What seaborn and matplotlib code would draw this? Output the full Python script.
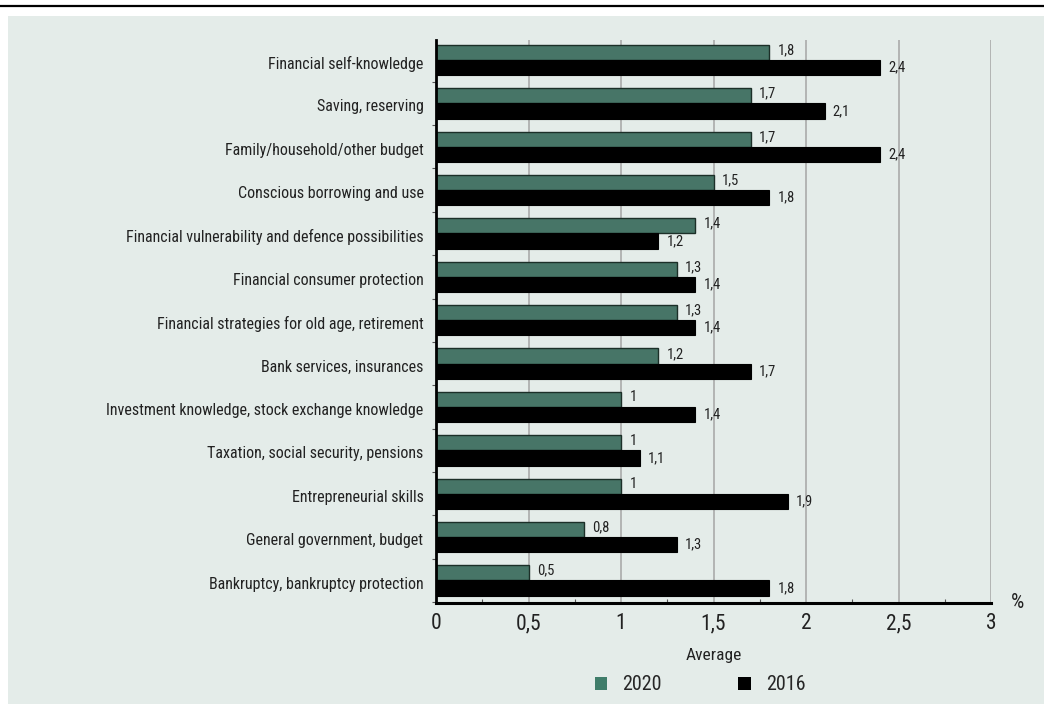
import matplotlib
matplotlib.use("Agg")
import matplotlib.pyplot as plt
from matplotlib.patches import Rectangle, Patch
from matplotlib.lines import Line2D
from matplotlib.ticker import MultipleLocator, FixedLocator
from matplotlib.transforms import ScaledTranslation
import seaborn as sns
import pandas as pd

topics = [
    "Financial self-knowledge",
    "Saving, reserving",
    "Family/household/other budget",
    "Conscious borrowing and use",
    "Financial vulnerability and defence possibilities",
    "Financial consumer protection",
    "Financial strategies for old age, retirement",
    "Bank services, insurances",
    "Investment knowledge, stock exchange knowledge",
    "Taxation, social security, pensions",
    "Entrepreneurial skills",
    "General government, budget",
    "Bankruptcy, bankruptcy protection",
]
avg_2020 = [1.8, 1.7, 1.7, 1.5, 1.4, 1.3, 1.3, 1.2, 1, 1, 1, 0.8, 0.5]
avg_2016 = [2.4, 2.1, 2.4, 1.8, 1.2, 1.4, 1.4, 1.7, 1.4, 1.1, 1.9, 1.3, 1.8]
years = ["2020", "2016"]
x_ticks = [0, 0.5, 1, 1.5, 2, 2.5, 3]

GREEN = "#3f7d6a"
PANEL = "#e4ece9"

df = pd.DataFrame({
    "topic": topics * 2,
    "value": avg_2020 + avg_2016,
    "year": [years[0]] * len(topics) + [years[1]] * len(topics),
})

sns.set_theme(style="white")
plt.rcParams["font.family"] = ["Liberation Sans Narrow", "Roboto Condensed", "DejaVu Sans"]
plt.rcParams["font.stretch"] = "condensed"

fig = plt.figure(figsize=(10.44, 7.04), dpi=100)
fig.patch.set_facecolor("white")
# tinted panel behind the chart and the rule above it
fig.patches.append(Rectangle((8 / 1044, 0), 1, (704 - 16) / 704, transform=fig.transFigure,
                             facecolor=PANEL, edgecolor="none", zorder=-10))
fig.lines.append(Line2D([0, 1], [1 - 6 / 704, 1 - 6 / 704], transform=fig.transFigure,
                        color="black", lw=1.6))

ax = fig.add_axes([436 / 1044, (704 - 603) / 704, (991 - 436) / 1044, (603 - 40) / 704])
ax.set_facecolor(PANEL)

sns.barplot(data=df, y="topic", x="value", hue="year", hue_order=years,
            palette={years[0]: GREEN, years[1]: "black"}, width=0.7,
            orient="h", dodge=True, ax=ax, legend=False, zorder=3)

for bar in ax.containers[0]:
    bar.set_edgecolor("#1c2f28")
    bar.set_linewidth(1.0)
for bar in ax.containers[1]:
    bar.set_edgecolor("black")
    bar.set_linewidth(0.8)

def comma(v):
    return f"{v:g}".replace(".", ",")

for cont, vals, dy in [(ax.containers[0], avg_2020, 1.5), (ax.containers[1], avg_2016, 0)]:
    texts = ax.bar_label(cont, labels=[comma(v) for v in vals], padding=6, fontsize=10.5,
                         color="#222222")
    for t in texts:
        t.xyann = (6, dy)

ax.set_xlim(0, 3)
ax.set_ylim(len(topics) - 0.5 + 0.02, -0.46)
ax.xaxis.set_major_locator(FixedLocator(x_ticks))
ax.set_xticklabels([comma(v) for v in x_ticks], fontsize=15.5, color="#222222")
ax.xaxis.set_minor_locator(MultipleLocator(0.25))
ax.tick_params(axis="x", which="major", length=0, pad=7.5)
ax.tick_params(axis="x", which="minor", direction="in", length=3, width=0.8, color="#555555",
               bottom=True)
ax.yaxis.set_minor_locator(FixedLocator([i + 0.5 for i in range(-1, len(topics))]))
ax.tick_params(axis="y", which="major", length=0, pad=9, labelsize=11.5, labelcolor="#222222")
ax.tick_params(axis="y", which="minor", direction="out", length=3, width=0.8, color="#555555",
               left=True)
shift = ScaledTranslation(0, -1.5 / 72, fig.dpi_scale_trans)
for lab in ax.get_yticklabels():
    lab.set_transform(lab.get_transform() + shift)

ax.grid(axis="x", which="major", color="#aaaaaa", lw=1.2, zorder=0)
ax.grid(axis="y", visible=False)
for side in ["top", "right"]:
    ax.spines[side].set_visible(False)
ax.spines["left"].set_color("black")
ax.spines["left"].set_linewidth(2)
ax.spines["bottom"].set_color("black")
ax.spines["bottom"].set_linewidth(2.2)
ax.spines["left"].set_zorder(5)
ax.spines["bottom"].set_zorder(5)

ax.set_ylabel("")
ax.set_xlabel("Average", fontsize=12.5, labelpad=10, color="#222222")

fig.text(1018 / 1044, 1 - 602 / 704, "%", fontsize=15, ha="center", va="center", color="#222222")

handles = [Patch(facecolor=GREEN, edgecolor="none"), Patch(facecolor="black", edgecolor="none")]
fig.legend(handles, years, loc="center", bbox_to_anchor=(700 / 1044, 1 - 685 / 704), ncol=2,
           frameon=False, fontsize=14.5, handlelength=0.62, handleheight=0.62,
           columnspacing=3.8, handletextpad=0.75)

fig.savefig("out.png", dpi=100, facecolor="white")
